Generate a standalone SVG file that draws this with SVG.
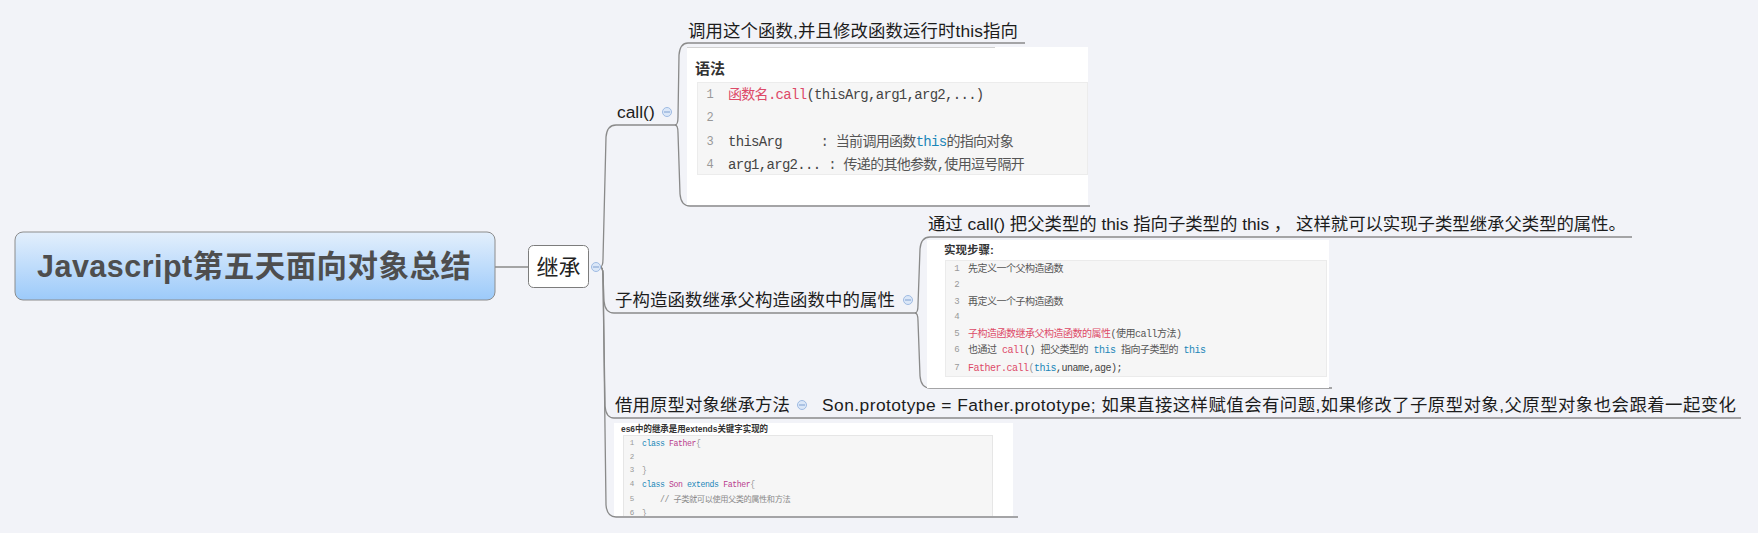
<svg xmlns="http://www.w3.org/2000/svg" width="1758" height="533" viewBox="0 0 1758 533">
<defs>
  <linearGradient id="rootGrad" x1="0" y1="0" x2="0" y2="1">
    <stop offset="0" stop-color="#e3effc"/>
    <stop offset="1" stop-color="#9ccafa"/>
  </linearGradient>
  <clipPath id="clipEs6"><rect x="614" y="423" width="399" height="93"/></clipPath>
</defs>
<style>
  .conn { fill: none; stroke: #8a8a8a; stroke-width: 1.3; }
  .lbl { font-family: "Liberation Sans", "Noto Sans CJK SC", sans-serif; font-size: 17.4px; fill: #1c1c1c; dominant-baseline: central; }
  .root { font-family: "Liberation Sans", "Noto Sans CJK SC", sans-serif; font-size: 30.5px; font-weight: bold; fill: #4e4e4e; dominant-baseline: central; }
  .sub { font-family: "Liberation Sans", "Noto Sans CJK SC", sans-serif; font-size: 22px; fill: #222; dominant-baseline: central; }
  .fold circle { fill: #dbe7f8; stroke: #9fbbe3; stroke-width: 1; }
  .fold line { stroke: #7f9fd0; stroke-width: 1; }
  .ititle { font-family: "Liberation Sans", "Noto Sans CJK SC", sans-serif; font-weight: bold; fill: #333; dominant-baseline: central; }
  .code { font-family: "Liberation Mono", "Noto Sans CJK SC", monospace; letter-spacing: -0.05em; fill: #555; dominant-baseline: central; }
  .ln { font-family: "Liberation Mono", monospace; fill: #999; text-anchor: middle; dominant-baseline: central; }
  .fn { fill: #dd4a68; }
  .kw { fill: #1a86b8; }
  .cls { fill: #b93c8c; }
  .pun { fill: #999; }
  .cmt { fill: #8a8a8a; }
  .dark { fill: #444; }
</style>
<rect x="0" y="0" width="1758" height="533" fill="#f2f3f8"/>

<g id="connectors">
  <line class="conn" x1="495" y1="267" x2="528" y2="267"/>
  <path class="conn" d="M 600 267 Q 603 267 603 259 L 606 137 Q 607 125 616 125 L 675 125"/>
  <path class="conn" d="M 600 267 Q 603 267 603 275 L 604 301 Q 605 313 614 313 L 915 313"/>
  <path class="conn" d="M 600 267 Q 603 267 603 275 L 605 406 Q 606 418 614 418 L 1741 418"/>
  <path class="conn" d="M 600 267 Q 603 267 603 275 L 606 505 Q 607 517 616 517 L 1018 517"/>
  <path class="conn" d="M 675 125 Q 678 125 678 117 L 679 55 Q 680 43 688 43 L 1025 43"/>
  <path class="conn" d="M 675 125 Q 678 125 678 133 L 680 194 Q 681 206 690 206 L 1090 206"/>
  <path class="conn" d="M 915 313 Q 918 313 918 305 L 920 249 Q 921 237 930 237 L 1632 237"/>
  <path class="conn" d="M 915 313 Q 918 313 918 321 L 920 376 Q 921 388 930 388 L 1332 388"/>
</g>

<g id="root">
  <rect x="15" y="232" width="480" height="68" rx="8" fill="url(#rootGrad)" stroke="#8c8c8c" stroke-width="1"/>
  <text class="root" x="254" y="266" text-anchor="middle" textLength="434" lengthAdjust="spacing">Javascript第五天面向对象总结</text>
</g>

<g id="inherit">
  <rect x="528.5" y="245.5" width="60" height="42" rx="5" fill="#ffffff" stroke="#7c7c7c" stroke-width="1"/>
  <text class="sub" x="558.5" y="267" text-anchor="middle">继承</text>
  <g class="fold"><circle cx="596" cy="267" r="4.5"/><line x1="593" y1="267" x2="599" y2="267"/></g>
</g>

<g id="call">
  <text class="lbl" x="617" y="112">call()</text>
  <g class="fold"><circle cx="667" cy="112" r="4.5"/><line x1="664" y1="112" x2="670" y2="112"/></g>
</g>

<g id="call-desc">
  <text class="lbl" x="688" y="31" textLength="330" lengthAdjust="spacing">调用这个函数,并且修改函数运行时this指向</text>
</g>

<g id="call-syntax">
  <rect x="687" y="47" width="401" height="158" fill="#ffffff"/>
  <line x1="687" y1="47.5" x2="995" y2="47.5" stroke="#d2d2d2" stroke-width="1"/>
  <text class="ititle" x="695" y="68" font-size="15">语法</text>
  <rect x="697.5" y="82.5" width="390" height="92" fill="#f6f6f6" stroke="#ececec"/>
  <text class="ln" x="710" y="95" font-size="12">1</text>
  <text class="ln" x="710" y="118" font-size="12">2</text>
  <text class="ln" x="710" y="142" font-size="12">3</text>
  <text class="ln" x="710" y="165" font-size="12">4</text>
  <text class="code" x="728" y="95" font-size="14" xml:space="preserve"><tspan class="fn">函数名.call</tspan><tspan class="dark">(thisArg,arg1,arg2,...)</tspan></text>
  <text class="code" x="728" y="142" font-size="14" xml:space="preserve"><tspan class="dark">thisArg     </tspan>: 当前调用函数<tspan class="kw">this</tspan>的指向对象</text>
  <text class="code" x="728" y="165" font-size="14" xml:space="preserve"><tspan class="dark">arg1,arg2... </tspan>: 传递的其他参数,使用逗号隔开</text>
</g>

<g id="sub-ctor">
  <text class="lbl" x="615" y="300" textLength="280" lengthAdjust="spacing">子构造函数继承父构造函数中的属性</text>
  <g class="fold"><circle cx="908" cy="300" r="4.5"/><line x1="905" y1="300" x2="911" y2="300"/></g>
</g>

<g id="sub-ctor-desc">
  <text class="lbl" x="928" y="224" textLength="698" lengthAdjust="spacing">通过 call() 把父类型的 this 指向子类型的 this ， 这样就可以实现子类型继承父类型的属性。</text>
</g>

<g id="sub-ctor-steps">
  <rect x="927" y="240" width="402" height="148" fill="#ffffff"/>
  <text class="ititle" x="944" y="250" font-size="11.5">实现步骤:</text>
  <rect x="945.5" y="260.5" width="381" height="116" fill="#f6f6f6" stroke="#ebebeb"/>
  <text class="ln" x="957" y="269" font-size="9">1</text>
  <text class="ln" x="957" y="285" font-size="9">2</text>
  <text class="ln" x="957" y="302" font-size="9">3</text>
  <text class="ln" x="957" y="317" font-size="9">4</text>
  <text class="ln" x="957" y="334" font-size="9">5</text>
  <text class="ln" x="957" y="350" font-size="9">6</text>
  <text class="ln" x="957" y="368" font-size="9">7</text>
  <text class="code" x="968" y="269" font-size="10">先定义一个父构造函数</text>
  <text class="code" x="968" y="302" font-size="10">再定义一个子构造函数</text>
  <text class="code" x="968" y="334" font-size="10"><tspan class="fn">子构造函数继承父构造函数的属性</tspan>(使用call方法)</text>
  <text class="code" x="968" y="350" font-size="10" xml:space="preserve">也通过 <tspan class="fn">call</tspan>() 把父类型的 <tspan class="kw">this</tspan> 指向子类型的 <tspan class="kw">this</tspan></text>
  <text class="code" x="968" y="368" font-size="10"><tspan class="fn">Father.call</tspan><tspan class="pun">(</tspan><tspan class="kw">this</tspan><tspan class="dark">,uname,age);</tspan></text>
</g>

<g id="proto">
  <text class="lbl" x="615" y="405" textLength="175" lengthAdjust="spacing">借用原型对象继承方法</text>
  <g class="fold"><circle cx="802" cy="405" r="4.5"/><line x1="799" y1="405" x2="805" y2="405"/></g>
</g>

<g id="proto-desc">
  <text class="lbl" x="822" y="405" font-size="18.2" textLength="914" lengthAdjust="spacing">Son.prototype = Father.prototype; 如果直接这样赋值会有问题,如果修改了子原型对象,父原型对象也会跟着一起变化</text>
</g>

<g id="es6-extends">
  <g clip-path="url(#clipEs6)">
    <rect x="614" y="423" width="399" height="94" fill="#ffffff"/>
    <text class="ititle" x="621" y="428" font-size="9.5" textLength="147" lengthAdjust="spacingAndGlyphs">es6中的继承是用extends关键字实现的</text>
    <rect x="623.5" y="435.5" width="369" height="95" fill="#f6f6f6" stroke="#e6e6e6"/>
    <text class="ln" x="632" y="443" font-size="7.5">1</text>
    <text class="ln" x="632" y="457" font-size="7.5">2</text>
    <text class="ln" x="632" y="470" font-size="7.5">3</text>
    <text class="ln" x="632" y="484" font-size="7.5">4</text>
    <text class="ln" x="632" y="499" font-size="7.5">5</text>
    <text class="ln" x="632" y="513" font-size="7.5">6</text>
    <text class="code" x="642" y="443" font-size="8.2" xml:space="preserve"><tspan class="kw">class</tspan> <tspan class="cls">Father</tspan><tspan class="pun">{</tspan></text>
    <text class="code pun" x="642" y="470" font-size="8.2">}</text>
    <text class="code" x="642" y="484" font-size="8.2" xml:space="preserve"><tspan class="kw">class</tspan> <tspan class="cls">Son</tspan> <tspan class="kw">extends</tspan> <tspan class="cls">Father</tspan><tspan class="pun">{</tspan></text>
    <text class="code cmt" x="642" y="499" font-size="8.2" xml:space="preserve">    // 子类就可以使用父类的属性和方法</text>
    <text class="code pun" x="642" y="513" font-size="8.2">}</text>
  </g>
</g>
</svg>
